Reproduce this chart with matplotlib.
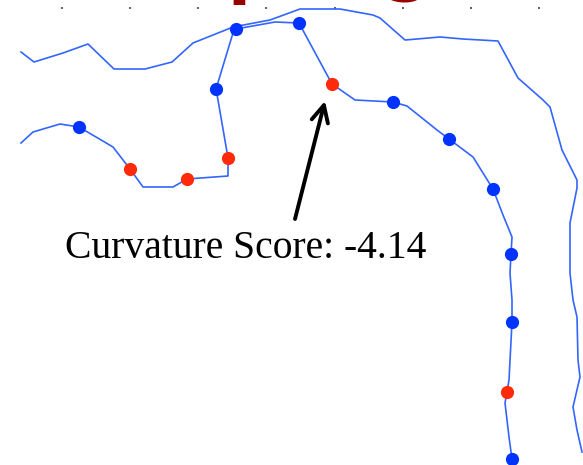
import matplotlib
matplotlib.use('Agg')
import matplotlib.pyplot as plt

# ── data (image-pixel coordinates, y grows downward) ───────────────────────────
# outer contour, no markers
outer_x = [21, 34, 63, 88, 114, 145, 172, 193, 213, 233, 270, 300, 340, 373, 380,
           405, 417, 440, 463, 498, 518, 543, 550, 562, 577, 577, 570, 570, 573,
           577, 578, 580, 573, 577, 582]
outer_y = [52, 62, 53, 44, 69, 69, 62, 43, 35, 27, 20, 9, 9, 15, 18,
           40, 39, 37, 39, 41, 78, 100, 107, 150, 180, 188, 223, 273, 300,
           317, 360, 377, 407, 430, 452]

# inner contour, sampled
inner_x = [21, 33, 60, 79, 113, 130, 143, 173, 187, 228, 228, 218, 216, 233, 236,
           275, 299, 332, 355, 393, 407, 437, 449, 473, 493, 503, 512, 511, 510,
           512, 512, 509, 507, 505, 509, 512]
inner_y = [143, 132, 124, 127, 147, 169, 187, 187, 179, 176, 158, 100, 89, 33, 29,
           22, 23, 84, 100, 102, 106, 130, 139, 157, 189, 215, 237, 254, 273,
           300, 322, 380, 392, 403, 437, 459]

# sample points on the inner contour: convex (blue) vs concave (red)
blue_x = [79, 216, 236, 299, 393, 449, 493, 511, 512, 512]
blue_y = [127, 89, 29, 23, 102, 139, 189, 254, 322, 459]
red_x = [130, 187, 228, 332, 507]
red_y = [169, 179, 158, 84, 392]

tick_x = [62, 130, 198, 266, 335, 403, 471, 539]

label = 'Curvature Score: -4.14'
arrow_tip = (325, 101)
arrow_tail = (295, 219)

W, H = 583, 465
fig = plt.figure(figsize=(W / 100, H / 100), dpi=100)
top = 9
ax = fig.add_axes([0, 0, 1, (H - top) / H])
ax.set_xlim(0, W)
ax.set_ylim(H, top)
for s in ax.spines.values():
    s.set_visible(False)

# faint tick marks along the top
ax.xaxis.set_ticks_position('top')
ax.set_xticks(tick_x)
ax.set_xticklabels([])
ax.set_yticks([])
ax.tick_params(axis='x', direction='out', length=1.5, width=1.2, color='#444444')

ax.plot(outer_x, outer_y, color='#3366ff', lw=1.2, clip_on=False)
ax.plot(inner_x, inner_y, color='#3366ff', lw=1.2, clip_on=False)
ax.plot(blue_x, blue_y, 'o', color='#0033ff', ms=9.5, mec='none', clip_on=False, zorder=3)
ax.plot(red_x, red_y, 'o', color='#ff2a0a', ms=9.5, mec='none', clip_on=False, zorder=3)

ax.annotate('', xy=arrow_tip, xytext=arrow_tail,
            arrowprops=dict(arrowstyle='->', lw=2.8, color='black',
                            mutation_scale=30, shrinkA=0, shrinkB=0))
ax.text(65, 258, label, fontsize=28.5, family='Liberation Serif',
        color='black', va='baseline', ha='left')

# cut-off title at the very top
fig.text(227 / W, 1 + 9 / H, 'p', fontsize=48, fontweight='bold',
         color='#990000', va='baseline', ha='left')
fig.text(384 / W, 1 + 12 / H, 'g', fontsize=48, fontweight='bold',
         color='#990000', va='baseline', ha='left')

fig.savefig('out.png', dpi=100)
